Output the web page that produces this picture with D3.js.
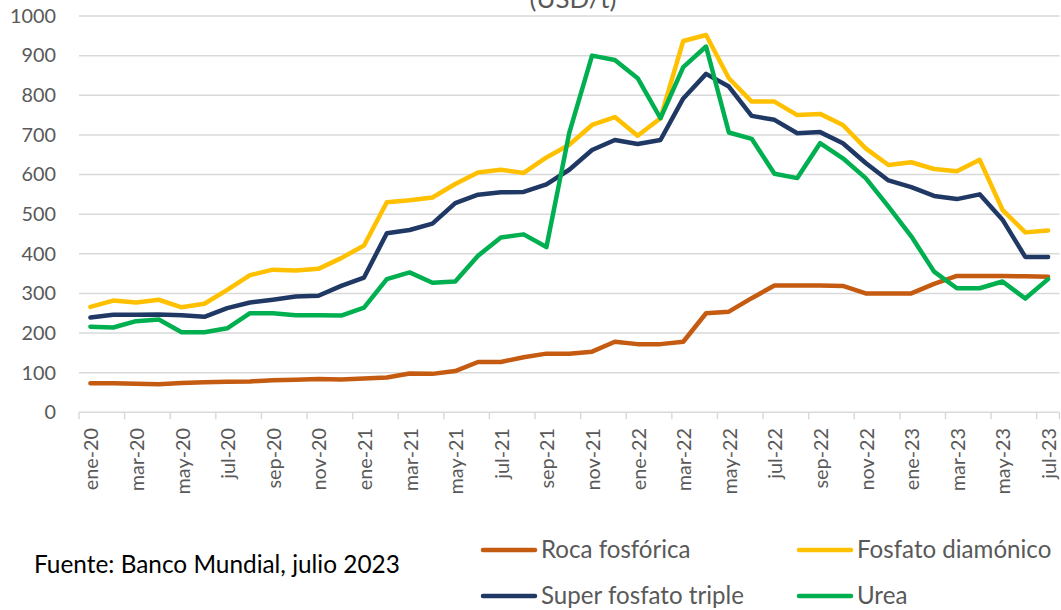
<!DOCTYPE html>
<html>
<head>
<meta charset="utf-8">
<script src="https://cdn.jsdelivr.net/npm/d3@7"></script>
<style>
  html, body { margin: 0; padding: 0; background: #ffffff; }
  svg { display: block; font-family: Lato, "Open Sans", sans-serif; }
</style>
</head>
<body>
<svg id="chart" width="1061" height="610"></svg>
<script>
const months = ["ene-20","feb-20","mar-20","abr-20","may-20","jun-20","jul-20","ago-20","sep-20","oct-20","nov-20","dic-20",
  "ene-21","feb-21","mar-21","abr-21","may-21","jun-21","jul-21","ago-21","sep-21","oct-21","nov-21","dic-21",
  "ene-22","feb-22","mar-22","abr-22","may-22","jun-22","jul-22","ago-22","sep-22","oct-22","nov-22","dic-22",
  "ene-23","feb-23","mar-23","abr-23","may-23","jun-23","jul-23"];

const rocaFosforica = [73,73,72,71,74,76,77,78,81,82,84,83,85,88,98,97,104,127,127,139,148,148,153,178,172,172,178,250,254,288,320,320,320,319,300,300,300,324,344,344,344,343,342];
const fosfatoDiamonico = [266,282,277,284,265,274,309,346,360,358,362,389,421,530,535,542,576,605,612,604,643,675,725,745,698,742,937,952,843,784,784,750,753,725,666,624,631,614,608,637,511,454,459];
const superFosfatoTriple = [239,246,246,247,245,241,263,277,284,292,294,319,340,452,460,476,528,549,555,556,575,612,662,687,677,687,792,854,822,748,738,704,707,679,629,585,568,546,538,550,486,392,392];
const urea = [216,214,230,234,202,202,212,250,250,245,245,244,264,336,353,327,330,395,441,449,417,705,900,889,843,742,871,923,706,690,602,591,679,641,591,519,444,355,313,313,330,287,336];

const yTicks = [0,100,200,300,400,500,600,700,800,900,1000];
const seriesNames = ["Roca fosfórica","Fosfato diamónico","Super fosfato triple","Urea"];
const seriesColors = ["#C55A11","#FFC000","#203864","#00B050"];
const seriesData = [rocaFosforica, fosfatoDiamonico, superFosfatoTriple, urea];
const titleText = "(USD/t)";
const sourceText = "Fuente: Banco Mundial, julio 2023";

const svg = d3.select("#chart");
const plotLeft = 79, plotRight = 1059.5, plotTop = 16, plotBottom = 412.3;

const x = d3.scaleBand().domain(months).range([plotLeft, plotRight]).padding(0);
const y = d3.scaleLinear().domain([0, 1000]).range([plotBottom, plotTop]);

function fit(sel, target) {
  const w = sel.node().getComputedTextLength();
  const fs = parseFloat(sel.style("font-size"));
  const nfs = fs * target / w;
  sel.style("font-size", nfs + "px");
  return nfs;
}

// gridlines
svg.append("g")
  .selectAll("line")
  .data(yTicks)
  .join("line")
  .attr("x1", plotLeft).attr("x2", plotRight)
  .attr("y1", d => y(d)).attr("y2", d => y(d))
  .attr("stroke", "#D9D9D9").attr("stroke-width", 1.5);

// y axis labels
const yAxisG = svg.append("g").attr("transform", `translate(${plotLeft},0)`)
  .call(d3.axisLeft(y).tickValues(yTicks).tickSize(0).tickPadding(23).tickFormat(d3.format("d")));
yAxisG.select(".domain").remove();
yAxisG.selectAll("text").attr("fill", "#595959").style("font-family", "Lato, sans-serif").style("font-size", "19px");
let axisFs = 19;
{
  const t1000 = yAxisG.selectAll("text").filter(d => d === 1000);
  axisFs = fit(t1000, 46);
  yAxisG.selectAll("text").style("font-size", axisFs + "px");
}

// x axis ticks at band boundaries every 2 months
const evenMonths = months.filter((m, i) => i % 2 === 0);
svg.append("g")
  .selectAll("line")
  .data(evenMonths)
  .join("line")
  .attr("x1", d => x(d)).attr("x2", d => x(d))
  .attr("y1", plotBottom).attr("y2", plotBottom + 7)
  .attr("stroke", "#D9D9D9").attr("stroke-width", 1.5);
svg.append("line")
  .attr("x1", plotRight).attr("x2", plotRight).attr("y1", plotBottom).attr("y2", plotBottom + 7)
  .attr("stroke", "#D9D9D9").attr("stroke-width", 1.5);

// x labels
svg.append("g")
  .selectAll("text")
  .data(evenMonths)
  .join("text")
  .attr("transform", d => `translate(${x(d) + x.bandwidth() / 2},428) rotate(-90)`)
  .attr("text-anchor", "end")
  .attr("dominant-baseline", "central")
  .attr("fill", "#595959")
  .style("font-size", axisFs + "px")
  .text(d => d);

// lines
const line = d3.line()
  .x((d, i) => x(months[i]) + x.bandwidth() / 2)
  .y(d => y(d));

seriesData.forEach((data, k) => {
  svg.append("path")
    .datum(data)
    .attr("d", line)
    .attr("fill", "none")
    .attr("stroke", seriesColors[k])
    .attr("stroke-width", 4.5)
    .attr("stroke-linejoin", "round")
    .attr("stroke-linecap", "round");
});

// title (partially clipped at top, as in the reference)
const title = svg.append("text")
  .attr("x", 573).attr("y", 8)
  .attr("text-anchor", "middle")
  .attr("fill", "#595959")
  .style("font-size", "20px")
  .text(titleText);
fit(title, 87);

// source
const src = svg.append("text")
  .attr("x", 34).attr("y", 573)
  .attr("fill", "#000000")
  .style("font-size", "20px")
  .text(sourceText);
fit(src, 366);

// legend
const legendPos = [
  {x: 481, y: 550}, {x: 797, y: 550},
  {x: 481, y: 596}, {x: 797, y: 596}
];
const lg = svg.append("g");
const legTexts = [];
seriesNames.forEach((name, k) => {
  const p = legendPos[k];
  lg.append("line")
    .attr("x1", p.x + 2).attr("x2", p.x + 54)
    .attr("y1", p.y).attr("y2", p.y)
    .attr("stroke", seriesColors[k]).attr("stroke-width", 4.5)
    .attr("stroke-linecap", "round");
  legTexts.push(lg.append("text")
    .attr("x", p.x + 60).attr("y", p.y + 7.5)
    .attr("fill", "#595959")
    .style("font-size", "20px")
    .text(name));
});
{
  const fs = fit(legTexts[2], 203);
  legTexts.forEach(t => t.style("font-size", fs + "px"));
}
</script>
</body>
</html>
